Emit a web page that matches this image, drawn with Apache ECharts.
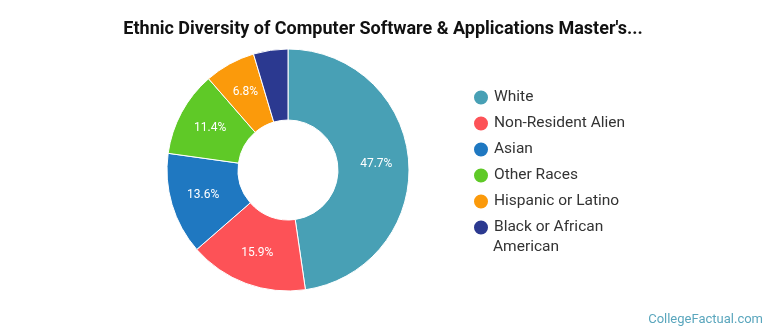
<!DOCTYPE html>
<html>
<head>
<meta charset="utf-8">
<script src="https://cdn.jsdelivr.net/npm/echarts@6/dist/echarts.min.js"></script>
<style>
html,body{margin:0;padding:0;background:#fff;}
#chart{width:770px;height:335px;}
</style>
</head>
<body>
<div id="chart"></div>
<script>
const categories = ['White', 'Non-Resident Alien', 'Asian', 'Other Races', 'Hispanic or Latino', 'Black or African American'];
const values = [47.7, 15.9, 13.6, 11.4, 6.8, 4.6];
const colors = ['#48a0b5', '#fd5257', '#1f78c1', '#5fc927', '#fb9a0b', '#2b3990'];
const titleText = "Ethnic Diversity of Computer Software & Applications Master's...";
// legend name wrapped onto two lines in the reference
const wrapFirst = 'Black or African';
const wrapSecond = 'American';

const chart = echarts.init(document.getElementById('chart'));
chart.setOption({
  animation: false,
  title: {
    text: titleText,
    left: 378, textAlign: 'center', top: 15,
    textStyle: { fontFamily: 'Roboto', fontWeight: 'bold', fontSize: 18, color: '#111' }
  },
  legend: {
    orient: 'vertical',
    left: 467, top: 82,
    icon: 'circle',
    itemWidth: 16, itemHeight: 16, itemGap: 5,
    textStyle: { fontFamily: 'Roboto', fontSize: 15.5, color: '#333', lineHeight: 21 },
    formatter: function (n) { return n === 'Black or African American' ? wrapFirst : n; },
    data: categories
  },
  graphic: [{
    type: 'text', x: 493, y: 247,
    style: { text: wrapSecond, fontFamily: 'Roboto', fontSize: 15.5, fill: '#333', verticalAlign: 'middle' }
  }, {
    type: 'text', right: 7, top: 313,
    style: { text: 'CollegeFactual.com', fontFamily: 'Roboto', fontSize: 13, fill: '#5aa6bd' }
  }],
  series: [{
    type: 'pie',
    center: [288, 170],
    radius: [50, 121],
    startAngle: 90,
    clockwise: true,
    avoidLabelOverlap: false,
    itemStyle: { borderColor: '#fff', borderWidth: 1 },
    label: {
      show: true, position: 'inside',
      fontFamily: 'Roboto', fontSize: 12, color: '#fff',
      formatter: function (p) { return p.value < 5 ? '' : p.value.toFixed(1) + '%'; }
    },
    labelLine: { show: false },
    data: categories.map((c, i) => ({ name: c, value: values[i], itemStyle: { color: colors[i] } }))
  }]
});
</script>
</body>
</html>
